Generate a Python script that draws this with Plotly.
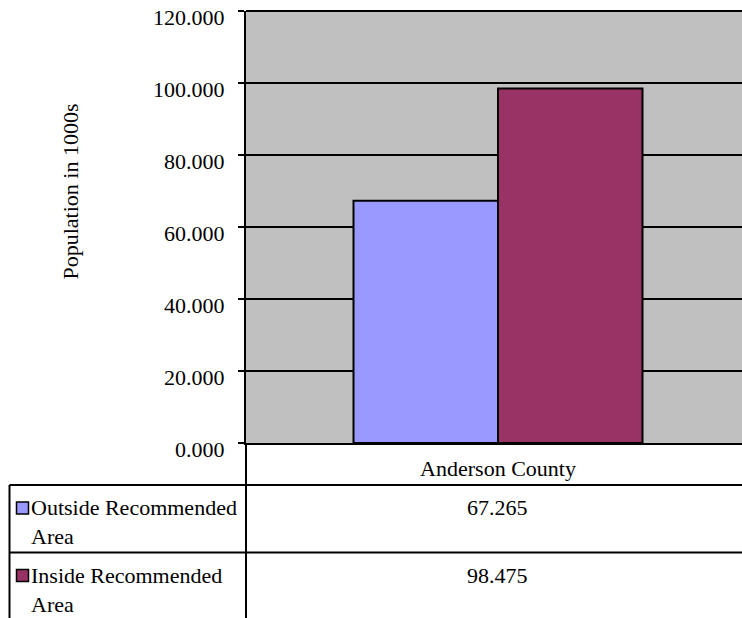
import plotly.graph_objects as go

# Population (thousands) by area
categories = ["Anderson County"]
series_names = ["Outside Recommended<br>Area", "Inside Recommended<br>Area"]
outside_values = [67.265]
inside_values = [98.475]
series_values = [outside_values, inside_values]
series_colors = ["#9999FF", "#993366"]
y_ticks = [0, 20, 40, 60, 80, 100, 120]

W, H = 742, 618
L, T, B = 246, 11, 443          # plot area edges in pixels
PW, PH = W - L, B - T
FONT = "Liberation Serif"
FS = 22


def px(x):
    return (x - L) / PW


def py(y):
    return (B - y) / PH


fig = go.Figure()
for name, vals, col in zip(series_names, series_values, series_colors):
    fig.add_trace(go.Bar(
        x=categories, y=vals, name=name.replace("<br>", " "),
        marker=dict(color=col, line=dict(color="black", width=2)),
        showlegend=False,
    ))

shapes = []
line = dict(color="black", width=2)
# top gridline of the value axis
shapes.append(dict(type="line", xref="paper", yref="paper",
                   x0=0, x1=1, y0=1, y1=1, line=line))
# data-table grid
shapes.append(dict(type="line", xref="paper", yref="paper",
                   x0=px(L), x1=px(L), y0=py(B), y1=py(H + 2), line=line))
shapes.append(dict(type="line", xref="paper", yref="paper",
                   x0=px(9.5), x1=px(9.5), y0=py(485), y1=py(H + 2), line=line))
for yy in (485, 552.5):
    shapes.append(dict(type="line", xref="paper", yref="paper",
                       x0=px(9.5), x1=px(W + 2), y0=py(yy), y1=py(yy), line=line))

annotations = []
row_tops = [485, 552.5]
for i, (name, vals, col) in enumerate(zip(series_names, series_values, series_colors)):
    top = row_tops[i]
    # legend key
    shapes.append(dict(type="rect", xref="paper", yref="paper",
                       x0=px(16.5), x1=px(28.5), y0=py(top + 17), y1=py(top + 29),
                       fillcolor=col, line=dict(color="black", width=1.5)))
    annotations.append(dict(
        xref="paper", yref="paper", x=px(29), y=py(top + 8),
        xanchor="left", yanchor="top", align="left", showarrow=False,
        text=name, font=dict(family=FONT, size=FS, color="black")))
    annotations.append(dict(
        xref="paper", yref="paper", x=px(497), y=py(top + 8),
        xanchor="center", yanchor="top", showarrow=False,
        text=f"{vals[0]:.3f}", font=dict(family=FONT, size=FS, color="black")))

# axis title
annotations.append(dict(
    xref="paper", yref="paper", x=px(70), y=py(191.5),
    xanchor="center", yanchor="middle", textangle=-90, showarrow=False,
    text="Population in 1000s", font=dict(family=FONT, size=FS, color="black")))

fig.update_layout(
    width=W, height=H,
    margin=dict(l=L, r=0, t=T, b=H - B, pad=0),
    paper_bgcolor="white", plot_bgcolor="#C0C0C0",
    barmode="group", bargap=0.4266, bargroupgap=0,
    font=dict(family=FONT, size=FS, color="black"),
    shapes=shapes, annotations=annotations,
)
fig.update_xaxes(
    type="category", range=[-0.5, -0.5 + PW / 504],
    showline=True, linecolor="black", linewidth=2, mirror=False,
    ticks="", showgrid=False, tickfont=dict(family=FONT, size=FS, color="black"),
    ticklabelstandoff=5,
)
fig.update_yaxes(
    range=[0, 120.0001], tickvals=y_ticks, tickformat=".3f",
    showline=True, linecolor="black", linewidth=2,
    ticks="outside", ticklen=6, tickwidth=2, tickcolor="black",
    showgrid=True, gridcolor="black", gridwidth=2, zeroline=False,
    tickfont=dict(family=FONT, size=FS, color="black"),
    ticklabelshift=6, ticklabelstandoff=9,
)

fig.write_html("out.html")
